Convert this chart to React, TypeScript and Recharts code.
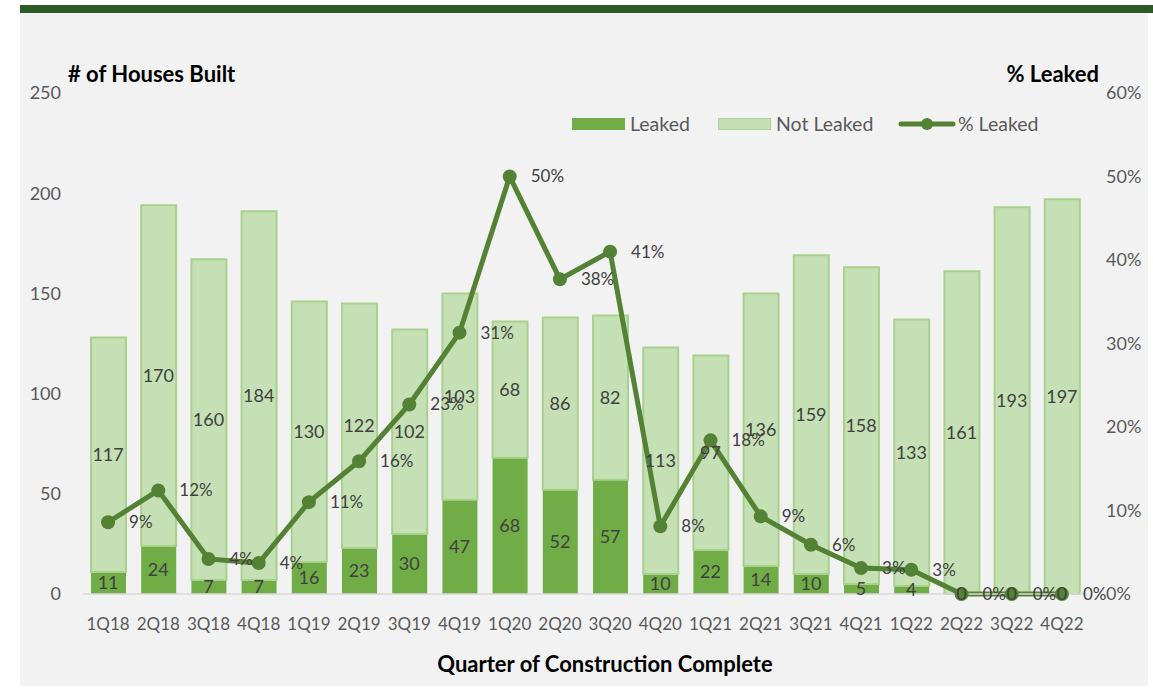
import React from 'react'
import {
  ComposedChart,
  Bar,
  Line,
  XAxis,
  YAxis,
  LabelList,
} from 'recharts'

const quarters = [
  '1Q18', '2Q18', '3Q18', '4Q18', '1Q19', '2Q19', '3Q19', '4Q19', '1Q20', '2Q20',
  '3Q20', '4Q20', '1Q21', '2Q21', '3Q21', '4Q21', '1Q22', '2Q22', '3Q22', '4Q22',
]
const leaked = [11, 24, 7, 7, 16, 23, 30, 47, 68, 52, 57, 10, 22, 14, 10, 5, 4, 0, 0, 0]
const notLeaked = [117, 170, 160, 184, 130, 122, 102, 103, 68, 86, 82, 113, 97, 136, 159, 158, 133, 161, 193, 197]
const pctLeaked = [8.6, 12.4, 4.2, 3.7, 11.0, 15.9, 22.7, 31.3, 50.0, 37.7, 41.0, 8.1, 18.4, 9.3, 5.9, 3.1, 2.9, 0, 0, 0]

const leftTicks = [0, 50, 100, 150, 200, 250]
const rightTicks = [0, 10, 20, 30, 40, 50, 60]

const FONT = 'Lato, "Open Sans", sans-serif'
const DARK = '#548235'
const MID = '#70ad47'
const LIGHT = '#c5e0b4'
const LIGHT_EDGE = '#a9d18e'
const TICK = '#595959'
const LABEL = '#404040'

const data = quarters.map((q, i) => ({
  quarter: q,
  leaked: leaked[i],
  notLeaked: notLeaked[i],
  pct: pctLeaked[i],
}))

// etiqueta da linha, sempre à direita do ponto
const PctLabel = (props: any) => {
  const { x, y, value } = props
  if (x == null || y == null) return null
  return (
    <text x={x + 21} y={y} dy="0.35em" fill={LABEL} fontSize={17} fontFamily={FONT} textAnchor="start">
      {`${Math.round(value)}%`}
    </text>
  )
}

// rótulo das barras, centrado no meio do segmento (desenhado por cima da linha)
const CenterLabel = (props: any) => {
  const { x, y, value } = props
  if (x == null || y == null) return null
  return (
    <text x={x} y={y} dy="0.35em" fill={LABEL} fontSize={18} fontFamily={FONT} textAnchor="middle">
      {value}
    </text>
  )
}

const legendText: React.CSSProperties = {
  position: 'absolute',
  top: 112,
  fontFamily: FONT,
  fontSize: 19.5,
  color: TICK,
  lineHeight: '24px',
  whiteSpace: 'nowrap',
}

const Legend = () => (
  <>
    <div style={{ position: 'absolute', left: 572, top: 118, width: 53, height: 12, background: MID }} />
    <div style={{ ...legendText, left: 630 }}>Leaked</div>
    <div
      style={{
        position: 'absolute',
        left: 718,
        top: 118,
        width: 51,
        height: 10,
        background: LIGHT,
        border: `1px solid ${LIGHT_EDGE}`,
      }}
    />
    <div style={{ ...legendText, left: 776 }}>Not Leaked</div>
    <svg width={60} height={16} style={{ position: 'absolute', left: 897, top: 116 }}>
      <line x1={4} y1={8} x2={56} y2={8} stroke={DARK} strokeWidth={5} strokeLinecap="round" />
      <circle cx={30} cy={8} r={6} fill={DARK} />
    </svg>
    <div style={{ ...legendText, left: 958 }}>% Leaked</div>
  </>
)

const titleStyle: React.CSSProperties = {
  position: 'absolute',
  fontFamily: FONT,
  fontWeight: 700,
  fontSize: 22,
  color: '#000',
  lineHeight: '26px',
  whiteSpace: 'nowrap',
}

export default function App() {
  return (
    <div
      style={{
        position: 'absolute',
        left: 0,
        top: 0,
        width: 1153,
        height: 700,
        background: '#ffffff',
        overflow: 'hidden',
      }}
    >
      <div style={{ position: 'absolute', left: 20, top: 5, width: 1133, height: 8, background: '#2b5a27' }} />
      <div style={{ position: 'absolute', left: 20, top: 13, width: 1128, height: 673, background: '#f2f2f2' }} />

      <div style={{ ...titleStyle, left: 68, top: 61 }}># of Houses Built</div>
      <div style={{ ...titleStyle, right: 1153 - 1099, top: 61 }}>% Leaked</div>
      <div style={{ ...titleStyle, left: 305, width: 600, top: 651, textAlign: 'center' }}>
        Quarter of Construction Complete
      </div>

      <Legend />

      <div style={{ position: 'absolute', left: 0, top: 0 }}>
        <ComposedChart
          width={1153}
          height={700}
          data={data}
          margin={{ top: 93, right: 0, left: 0, bottom: 0 }}
          barCategoryGap="30%"
        >
          <XAxis
            dataKey="quarter"
            height={106}
            tickSize={0}
            tickMargin={24}
            axisLine={{ stroke: '#d9d9d9', strokeWidth: 1.5 }}
            tick={{ fill: TICK, fontSize: 17, fontFamily: FONT }}
            interval={0}
          />
          <YAxis
            yAxisId="left"
            width={83}
            domain={[0, 250]}
            ticks={leftTicks}
            tickSize={0}
            tickMargin={22}
            axisLine={false}
            tickLine={false}
            tick={{ fill: TICK, fontSize: 18, fontFamily: FONT }}
          />
          <YAxis
            yAxisId="right"
            orientation="right"
            width={66}
            domain={[0, 60]}
            ticks={rightTicks}
            tickFormatter={(v) => `${v}%`}
            tickSize={0}
            tickMargin={19}
            axisLine={false}
            tickLine={false}
            tick={{ fill: TICK, fontSize: 18, fontFamily: FONT }}
          />
          <Bar yAxisId="left" dataKey="leaked" stackId="a" fill={MID} barSize={35} isAnimationActive={false} />
          <Bar
            yAxisId="left"
            dataKey="notLeaked"
            stackId="a"
            fill={LIGHT}
            stroke={LIGHT_EDGE}
            strokeWidth={2}
            barSize={35}
            isAnimationActive={false}
          />
          <Line
            yAxisId="right"
            dataKey="pct"
            stroke={DARK}
            strokeWidth={5}
            dot={{ r: 7, fill: DARK, stroke: DARK, strokeWidth: 0 }}
            activeDot={false}
            isAnimationActive={false}
          >
            <LabelList dataKey="pct" content={PctLabel} />
          </Line>
          {/* linhas invisíveis só para pôr os rótulos das barras por cima da linha */}
          <Line
            yAxisId="left"
            dataKey={(d: any) => d.leaked / 2}
            stroke="none"
            dot={false}
            activeDot={false}
            legendType="none"
            isAnimationActive={false}
          >
            <LabelList dataKey="leaked" content={CenterLabel} />
          </Line>
          <Line
            yAxisId="left"
            dataKey={(d: any) => d.leaked + d.notLeaked / 2}
            stroke="none"
            dot={false}
            activeDot={false}
            legendType="none"
            isAnimationActive={false}
          >
            <LabelList dataKey="notLeaked" content={CenterLabel} />
          </Line>
        </ComposedChart>
      </div>
    </div>
  )
}
